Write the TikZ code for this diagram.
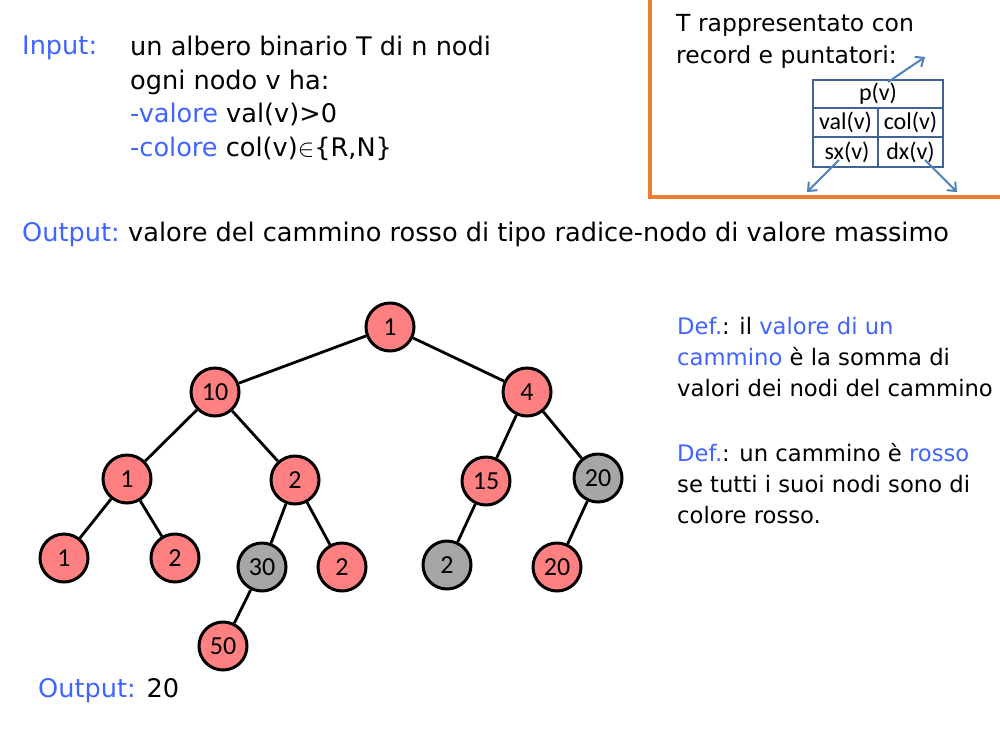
\documentclass[tikz,border=0pt]{standalone}
\usepackage{fontspec}
\setmainfont{DejaVu Sans}
\newfontfamily\calfont{Carlito}
\usetikzlibrary{arrows.meta}
\definecolor{txtblue}{RGB}{64,100,255}
\definecolor{boxorange}{RGB}{237,125,49}
\definecolor{tblblue}{RGB}{65,100,150}
\definecolor{ptrblue}{RGB}{79,129,189}
\definecolor{nodered}{RGB}{255,128,128}
\definecolor{nodegray}{RGB}{166,166,166}
\tikzset{
  txt/.style={anchor=base west, inner sep=0pt, font=\fontsize{25.6}{25.6}\selectfont},
  boxtxt/.style={txt, font=\fontsize{23.5}{23.5}\selectfont},
  deftxt/.style={txt, font=\fontsize{22.7}{22.7}\selectfont},
  cell/.style={inner sep=0pt, font=\calfont\fontsize{24}{24}\selectfont},
  ptr/.style={ptrblue, line width=2pt, -{Straight Barb[length=7pt,width=12pt]}},
  tnode/.style={circle, draw=black, line width=3pt, minimum size=48pt, inner sep=0pt,
    font=\calfont\fontsize{26}{26}\selectfont},
  rnode/.style={tnode, fill=nodered},
  gnode/.style={tnode, fill=nodegray},
  edge/.style={black, line width=2.8pt}
}
\begin{document}
\begin{tikzpicture}[x=1pt,y=-1pt]
\useasboundingbox (0,0) rectangle (1000,736);
\fill[white] (0,0) rectangle (1000,736);

% problem statement
\node[txt, txtblue] (inlab) at (22,54) {Input:};
\node[txt] (in1) at (130,55) {un albero binario T di n nodi};
\node[txt] (in2) at (130,89) {ogni nodo v ha:};
\node[txt] (in3) at (130,122) {\textcolor{txtblue}{-valore} val(v)>0};
\node[txt] (in4) at (130,156) {\textcolor{txtblue}{-colore} col(v)$\in$\{R,N\}};
\node[txt, txtblue] (outlab) at (22,241) {Output:};
\node[txt] (out1) at (128,241) {valore del cammino rosso di tipo radice-nodo di valore massimo};

% record representation box
\draw[boxorange, line width=3.2pt] (650,-3) rectangle (1004,197);
\node[boxtxt] (rec1) at (676,31) {T rappresentato con};
\node[boxtxt] (rec2) at (676,63) {record e puntatori:};
\draw[tblblue, line width=2.4pt] (813,80) rectangle (943,167);
\draw[tblblue, line width=2.4pt] (813,108) -- (943,108) (813,137) -- (943,137) (878,108) -- (878,167);
\node[cell] (pv) at (878,94) {p(v)};
\node[cell] (valv) at (845.5,122.5) {val(v)};
\node[cell] (colv) at (910.5,122.5) {col(v)};
\node[cell] (sxv) at (847,152) {sx(v)};
\node[cell] (dxv) at (910.5,152) {dx(v)};
\coordinate (pvs) at (888,82);
\coordinate (pvt) at (925,57);
\coordinate (sxs) at (839,160);
\coordinate (sxt) at (807,192);
\coordinate (dxs) at (925,160);
\coordinate (dxt) at (957,192);
\draw[ptr] (pvs) -- (pvt);
\draw[ptr] (sxs) -- (sxt);
\draw[ptr] (dxs) -- (dxt);

% tree
\node[rnode] (r) at (390,327) {1};
\node[rnode] (a) at (215,392) {10};
\node[rnode] (b) at (527,392) {4};
\node[rnode] (aa) at (127,479) {1};
\node[rnode] (ab) at (295,480) {2};
\node[rnode] (ba) at (486,481) {15};
\node[gnode] (bb) at (598,478) {20};
\node[rnode] (aaa) at (64,558) {1};
\node[rnode] (aab) at (175,558) {2};
\node[gnode] (aba) at (262,567) {30};
\node[rnode] (abb) at (342,567) {2};
\node[gnode] (baa) at (447,565) {2};
\node[rnode] (bba) at (557,567) {20};
\node[rnode] (abaa) at (223,646) {50};
\draw[edge] (r) -- (a) (r) -- (b)
  (a) -- (aa) (a) -- (ab) (aa) -- (aaa) (aa) -- (aab)
  (ab) -- (aba) (ab) -- (abb) (aba) -- (abaa)
  (b) -- (ba) (b) -- (bb) (ba) -- (baa) (bb) -- (bba);

\node[txt, txtblue] (res) at (38,697) {Output: \textcolor{black}{20}};

% definitions
\node[deftxt] (d1) at (677,334) {\textcolor{txtblue}{Def.}: il \textcolor{txtblue}{valore di un}};
\node[deftxt] (d2) at (677,365) {\textcolor{txtblue}{cammino} è la somma di};
\node[deftxt] (d3) at (677,396) {valori dei nodi del cammino};
\node[deftxt] (d4) at (677,461) {\textcolor{txtblue}{Def.}: un cammino è \textcolor{txtblue}{rosso}};
\node[deftxt] (d5) at (677,492) {se tutti i suoi nodi sono di};
\node[deftxt] (d6) at (677,523) {colore rosso.};
\end{tikzpicture}
\end{document}
